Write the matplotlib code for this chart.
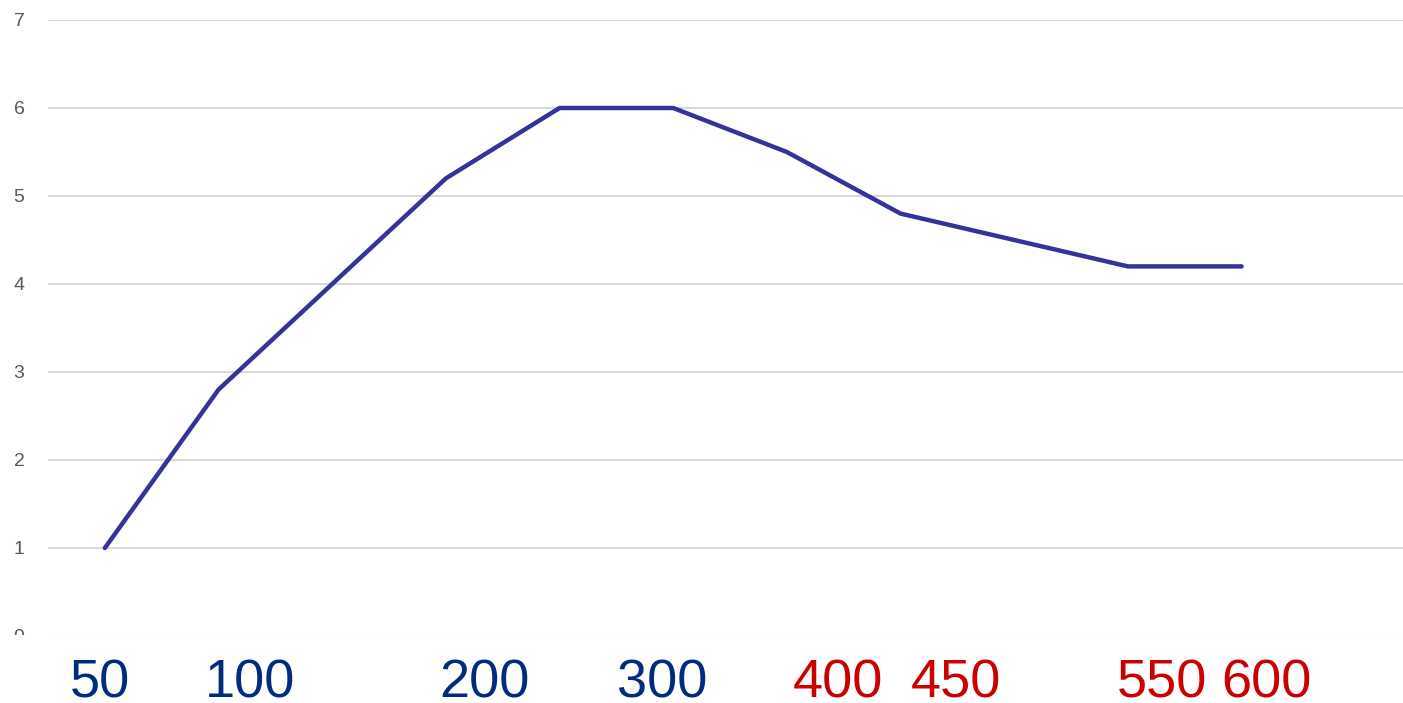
import numpy as np
import matplotlib.pyplot as plt
import matplotlib.transforms as mtransforms
from matplotlib.patches import Rectangle

plt.rcParams['font.family'] = ['Liberation Sans', 'DejaVu Sans']

# Series values, one per category slot
values = [1.0, 2.8, 4.0, 5.2, 6.0, 6.0, 5.5, 4.8, 4.5, 4.2, 4.2]
y_ticks = [0, 1, 2, 3, 4, 5, 6, 7]

# Labels written under the axis, with their category positions and colours
labels = ['50', '100', '200', '300', '400', '450', '550', '600']
label_pos = [-0.04, 1.28, 3.34, 4.9, 6.45, 7.49, 9.3, 10.22]
label_colors = ['#002B7F'] * 4 + ['#CC0000'] * 4

W, H = 1403, 703
fig = plt.figure(figsize=(W / 100, H / 100), dpi=100)
ax = fig.add_axes([48 / W, 67 / H, 1 - 48 / W, 616 / H])

x = np.arange(len(values))
ax.plot(x, values, color='#333399', lw=3.2, solid_capstyle='round',
        solid_joinstyle='round', zorder=3)

ax.set_xlim(-0.5, 11.42)
ax.set_ylim(0, 7)
ax.set_yticks(y_ticks)
ax.set_xticks([])
ax.grid(axis='y', color='#D9D9D9', lw=1.5)
ax.set_axisbelow(True)
for s in ax.spines.values():
    s.set_visible(False)
ax.tick_params(axis='y', length=0, pad=17, labelsize=14, labelcolor='#595959')

# Blank band at the bottom covering the lower edge of the axis
fig.patches.append(Rectangle((0, 0), 1, 68.5 / H, transform=fig.transFigure,
                             facecolor='white', edgecolor='none', zorder=5))

# Category labels in data x, figure y (baseline just above the bottom edge)
trans = mtransforms.blended_transform_factory(ax.transData, fig.transFigure)
for t, p, c in zip(labels, label_pos, label_colors):
    fig.text(p, 6 / H, t, color=c, fontsize=39, ha='center',
             va='baseline', transform=trans, zorder=6)

fig.savefig('out.png', dpi=100)
